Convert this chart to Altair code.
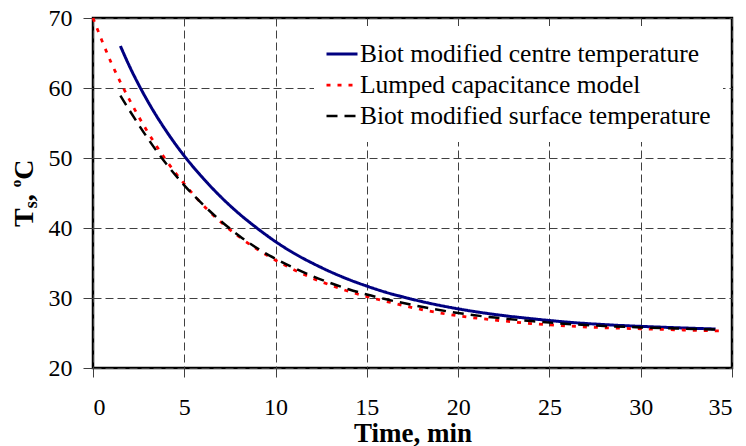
import altair as alt
import pandas as pd

# ---- data ----
series_names = [
    "Biot modified centre temperature",
    "Lumped capacitance model",
    "Biot modified surface temperature",
]

centre_t = [1.5, 2, 3, 4, 5, 6, 7, 8, 9, 10, 11, 12, 13, 14, 15, 16, 18, 20, 22, 24, 26, 28, 30, 32, 34.1]
centre_T = [66.0, 63.1, 58.1, 53.9, 50.3, 47.2, 44.45, 42.05, 39.95, 38.05, 36.4, 35.0, 33.75, 32.65, 31.7,
            30.85, 29.5, 28.45, 27.65, 27.05, 26.55, 26.2, 25.95, 25.75, 25.57]

lumped_t = [0, 1, 2, 3, 4, 5, 6, 7, 8, 9, 10, 11, 12, 13, 14, 15, 16, 18, 20, 22, 24, 26, 28, 30, 32, 34.3]
lumped_T = [70.0, 63.6, 58.3, 53.7, 49.7, 46.3, 43.35, 40.85, 38.75, 36.95, 35.4, 34.05, 32.85, 31.85, 30.95,
            30.2, 29.55, 28.35, 27.45, 26.85, 26.35, 26.0, 25.75, 25.6, 25.45, 25.3]

surface_t = [1.5, 2, 3, 4, 5, 6, 7, 8, 9, 10, 11, 12, 13, 14, 15, 16, 18, 20, 22, 24, 26, 28, 30, 32, 34.1]
surface_T = [58.9, 56.8, 52.8, 49.2, 46.1, 43.4, 41.0, 38.9, 37.1, 35.6, 34.3, 33.15, 32.15, 31.25, 30.5,
             29.85, 28.75, 27.85, 27.2, 26.7, 26.3, 26.0, 25.8, 25.65, 25.5]

x_ticks = [0, 5, 10, 15, 20, 25, 30, 35]
y_ticks = [20, 30, 40, 50, 60, 70]

# ---- styles ----
colors = ["#000080", "#FF0000", "#000000"]
dashes = [[1, 0], [4, 7], [11, 7]]
widths = [3, 2.5, 2]
FONT = "'Liberation Serif', 'Times New Roman', Tinos, 'DejaVu Serif', serif"

rows = []
for name, ts, vs in zip(series_names, [centre_t, lumped_t, surface_t], [centre_T, lumped_T, surface_T]):
    for t, v in zip(ts, vs):
        rows.append({"series": name, "t": t, "T": v})
df = pd.DataFrame(rows)

axis_common = dict(
    domain=False, labelFont=FONT, labelFontSize=24, labelColor="black",
    gridColor="#404040", gridDash=[8, 4], gridWidth=1, gridOpacity=1,
    tickColor="#404040", tickWidth=1, grid=True,
)

lines = alt.Chart(df).mark_line(interpolate="monotone").encode(
    x=alt.X("t:Q", scale=alt.Scale(domain=[0, 35], nice=False),
            axis=alt.Axis(values=x_ticks, title="Time, min",
                          tickSize=9, labelPadding=37, labelBaseline="alphabetic",
                          titleY=73, titleBaseline="alphabetic", titleFontSize=27,
                          titleFontWeight="bold", titleFont=FONT, titleColor="black",
                          **axis_common)),
    y=alt.Y("T:Q", scale=alt.Scale(domain=[20, 70], nice=False, zero=False),
            axis=alt.Axis(values=y_ticks, title=None, tickSize=10, labelPadding=11,
                          **axis_common)),
    color=alt.Color("series:N", scale=alt.Scale(domain=series_names, range=colors),
                    legend=alt.Legend(title=None, orient="none", legendX=221, legendY=8,
                                      fillColor="white", padding=11, labelFont=FONT,
                                      labelFontSize=25.5, labelColor="black", labelLimit=600,
                                      symbolType="stroke", symbolSize=961, labelOffset=1,
                                      rowPadding=-1, strokeColor="white")),
    strokeDash=alt.StrokeDash("series:N", scale=alt.Scale(domain=series_names, range=dashes)),
    strokeWidth=alt.StrokeWidth("series:N", scale=alt.Scale(domain=series_names, range=widths)),
)

# y-axis title "T_s, °C" built from pieces (sub/superscript)
one = pd.DataFrame({"a": [0]})
title_parts = [
    ("T", 28, -59.7, 209.0),
    ("s", 18, -55.7, 190.3),
    (",", 28, -59.7, 183.3),
    ("o", 15, -72.0, 169.3),
    ("C", 28, -59.7, 161.8),
]
texts = []
for txt, size, px, py in title_parts:
    texts.append(
        alt.Chart(one).mark_text(text=txt, angle=270, align="left", baseline="alphabetic",
                                 font=FONT, fontSize=size, fontWeight="bold", color="black")
        .encode(x=alt.value(px), y=alt.value(py))
    )

chart = alt.layer(lines, *texts).properties(
    width=639, height=350,
    autosize=alt.AutoSizeParams(type="none"),
    padding={"left": 93, "top": 18, "right": 14, "bottom": 78},
).configure(
    font=FONT
).configure_view(
    stroke="black", strokeWidth=2.5
).configure_legend(
    labelFont=FONT, labelFontSize=25.5, labelColor="black", labelLimit=600,
)

chart.save("out.html", embed_options={"renderer": "svg", "actions": False})
